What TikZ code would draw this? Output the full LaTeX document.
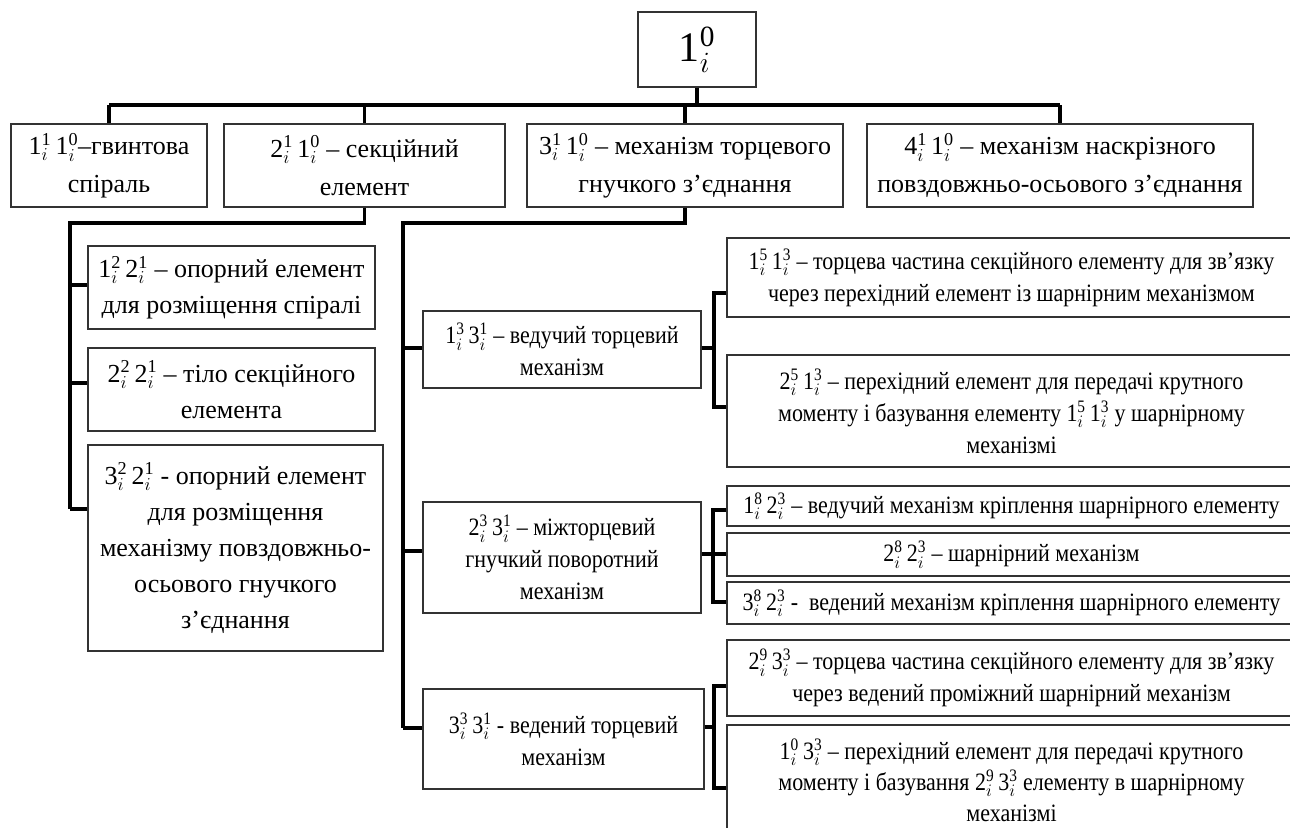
\RequirePackage{fix-cm}
\documentclass[tikz,border=0pt]{standalone}
\usepackage{amsmath}
\usepackage{fontspec}
\setmainfont{Liberation Serif}
\newfontfamily\narrowfont{Liberation Serif}[FakeStretch=0.88]
\usetikzlibrary{calc}
\newcommand{\ix}[2]{#1$_i^{\text{#2}}$}
\tikzset{
  box/.style={draw=black!80, line width=1.3pt, align=center, inner sep=0pt,
    font=\fontsize{26}{36}\selectfont},
  nbox/.style={box, font=\narrowfont\fontsize{25}{32}\selectfont},
  link/.style={line width=3.2pt},
}

\begin{document}
\begin{tikzpicture}[x=1pt,y=-1pt]
\useasboundingbox (0,0) rectangle (1290,827);

\node[box, minimum width=118pt, minimum height=75pt, font=\fontsize{42}{46}\selectfont] (top) at (697,49.5) {\ix{1}{0}};

\node[box, minimum width=196pt, minimum height=83pt, font=\fontsize{26}{38}\selectfont] (l1) at (109,165.5) {\ix{1}{1}\,\ix{1}{0}–гвинтова\\спіраль};
\node[box, minimum width=281pt, minimum height=83pt, font=\fontsize{26}{38}\selectfont] (l2) at (364.5,165.5) {\ix{2}{1}\,\ix{1}{0} – секційний\\елемент};
\node[box, minimum width=316pt, minimum height=83pt, font=\fontsize{26}{38}\selectfont] (l3) at (685,165.5) {\ix{3}{1}\,\ix{1}{0} – механізм торцевого\\гнучкого з’єднання};
\node[box, minimum width=386pt, minimum height=83pt, font=\fontsize{26}{38}\selectfont] (l4) at (1060,165.5) {\ix{4}{1}\,\ix{1}{0} – механізм наскрізного\\повздовжньо-осьового з’єднання};

\node[box, minimum width=287pt, minimum height=83pt] (a) at (231.5,287.5) {\ix{1}{2}\,\ix{2}{1} – опорний елемент\\для розміщення спіралі};
\node[box, minimum width=287pt, minimum height=83pt] (b) at (231.5,389.5) {\ix{2}{2}\,\ix{2}{1} – тіло секційного\\елемента};
\node[box, minimum width=295pt, minimum height=206pt] (c) at (235.5,548) {\ix{3}{2}\,\ix{2}{1} - опорний елемент\\для розміщення\\механізму повздовжньо-\\осьового гнучкого\\з’єднання};

\node[nbox, minimum width=278pt, minimum height=77pt] (m1) at (562,349.5) {\ix{1}{3}\,\ix{3}{1} – ведучий торцевий\\механізм};
\node[nbox, minimum width=278pt, minimum height=111pt] (m2) at (562,557.5) {\ix{2}{3}\,\ix{3}{1} – міжторцевий\\гнучкий поворотний\\механізм};
\node[nbox, minimum width=281pt, minimum height=100pt] (m3) at (563.5,739) {\ix{3}{3}\,\ix{3}{1} - ведений торцевий\\механізм};

\node[nbox, minimum width=569pt, minimum height=79pt] (r1) at (1011.5,277.5) {\ix{1}{5}\,\ix{1}{3} – торцева частина секційного елементу для зв’язку\\через перехідний елемент із шарнірним механізмом};
\node[nbox, minimum width=569pt, minimum height=112pt] (r2) at (1011.5,411) {\ix{2}{5}\,\ix{1}{3} – перехідний елемент для передачі крутного\\моменту і базування елементу \ix{1}{5}\,\ix{1}{3} у шарнірному\\механізмі};
\node[nbox, minimum width=569pt, minimum height=40pt] (r3) at (1011.5,506) {\ix{1}{8}\,\ix{2}{3} – ведучий механізм кріплення шарнірного елементу};
\node[nbox, minimum width=569pt, minimum height=43pt] (r4) at (1011.5,554.5) {\ix{2}{8}\,\ix{2}{3} – шарнірний механізм};
\node[nbox, minimum width=569pt, minimum height=42pt] (r5) at (1011.5,603) {\ix{3}{8}\,\ix{2}{3} -\ \ ведений механізм кріплення шарнірного елементу};
\node[nbox, minimum width=569pt, minimum height=76pt] (r6) at (1011.5,678) {\ix{2}{9}\,\ix{3}{3} – торцева частина секційного елементу для зв’язку\\через ведений проміжний шарнірний механізм};
\node[nbox, minimum width=569pt, minimum height=110pt, font=\narrowfont\fontsize{25}{31}\selectfont] (r7) at (1011.5,780) {\ix{1}{0}\,\ix{3}{3} – перехідний елемент для передачі крутного\\моменту і базування \ix{2}{9}\,\ix{3}{3} елементу в шарнірному\\механізмі};

\coordinate (bus) at (0,105);
\coordinate (sub) at (0,223);
\coordinate (lv) at (70,223);
\coordinate (rv) at (403,223);

\draw[link] (top) -- (top |- bus);
\draw[link] (l1.north |- bus) -- (l4.north |- bus);
\foreach \n in {l1,l2,l3,l4}
  \draw[link] (\n.north |- bus) -- (\n.north);

\draw[link] (l2.south) -- (l2.south |- sub) -- (lv) -- (70,509);
\foreach \n/\y in {a/285,b/383,c/509}
  \draw[link] (lv |- 0,\y) -- (\n.west |- 0,\y);

\draw[link] (l3.south) -- (l3.south |- sub) -- (rv) -- (403,728);
\foreach \n/\y in {m1/348,m2/551,m3/728}
  \draw[link] (rv |- 0,\y) -- (\n.west |- 0,\y);

\draw[link] (m1.east |- 0,348) -- (714,348);
\draw[link] (r1.west |- 0,293) -| (714,348) |- (r2.west |- 0,407);
\draw[link] (m2.east |- 0,554) -- (r4.west |- 0,554);
\draw[link] (r3.west |- 0,510) -| (713,554) |- (r5.west |- 0,602);
\draw[link] (m3.east |- 0,727) -- (714,727);
\draw[link] (r6.west |- 0,686) -| (714,727) |- (r7.west |- 0,788);
\end{tikzpicture}
\end{document}
